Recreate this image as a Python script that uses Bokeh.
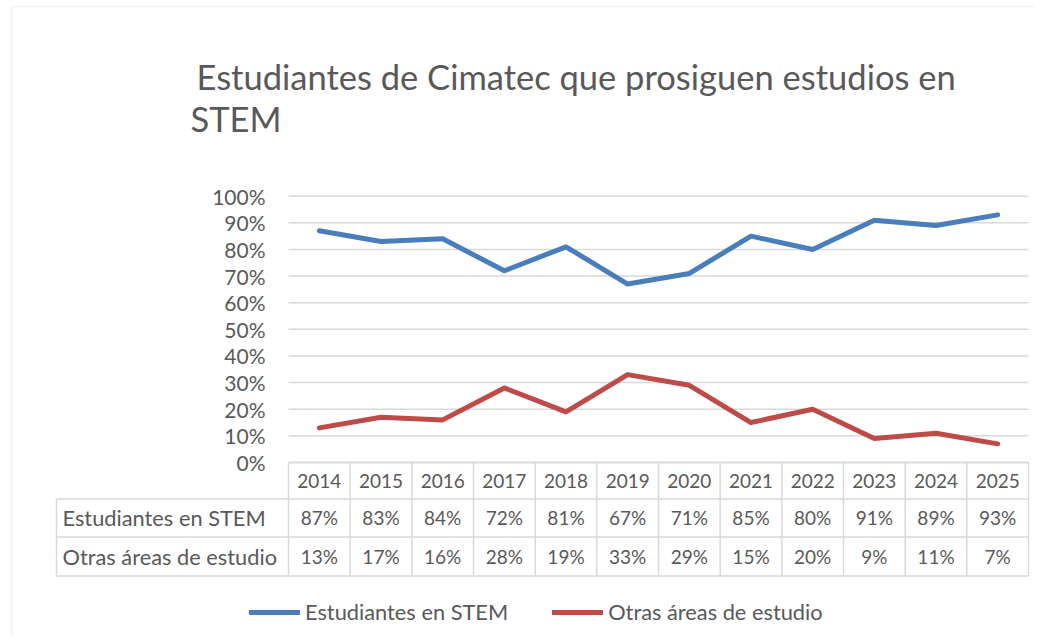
from bokeh.plotting import figure
from bokeh.models import (FixedTicker, Label, BoxAnnotation, Legend, LegendItem,
                          PrintfTickFormatter)
from bokeh.core.properties import value
from bokeh.embed import file_html
from bokeh.resources import INLINE

# ---------------- data ----------------
years = ["2014", "2015", "2016", "2017", "2018", "2019",
         "2020", "2021", "2022", "2023", "2024", "2025"]
stem = [87, 83, 84, 72, 81, 67, 71, 85, 80, 91, 89, 93]
otras = [13, 17, 16, 28, 19, 33, 29, 15, 20, 9, 11, 7]
series_names = ["Estudiantes en STEM", "Otras áreas de estudio"]
y_ticks = [0, 10, 20, 30, 40, 50, 60, 70, 80, 90, 100]
title_lines = ["Estudiantes de Cimatec que prosiguen estudios en", "STEM"]

# ---------------- style ----------------
FONT = "Lato"
GRAY = "#595959"
GRID = "#d9d9d9"
BLUE = "#4a7ebb"
RED = "#be4b48"

n = len(years)
idx = list(range(n))

W, H = 1034, 636
COL = 61.667          # px per category
PCT = 2.663           # px per percentage point
X0, Y0 = 288, 462     # pixel of plot-area left edge / 0% line


def dx(px):
    return -0.5 + (px - X0) / COL


def dy(py):
    return (Y0 - py) / PCT


p = figure(width=W, height=H,
           x_range=(dx(0), dx(W)), y_range=(dy(H), dy(0)),
           output_backend="svg", toolbar_location=None,
           x_axis_location=None,
           min_border=0, outline_line_color=None)

# y axis sits on the left edge of the plot area
p.yaxis.fixed_location = -0.5
p.yaxis.ticker = FixedTicker(ticks=y_ticks)
p.yaxis.formatter = PrintfTickFormatter(format="%d%%")
p.yaxis.axis_line_color = None
p.yaxis.major_tick_line_color = None
p.yaxis.minor_tick_line_color = None
p.yaxis.major_label_text_font = FONT
p.yaxis.major_label_text_font_size = "21px"
p.yaxis.major_label_text_color = GRAY
p.yaxis.major_label_standoff = 17

p.xgrid.visible = False
p.ygrid.visible = False

# horizontal gridlines across the plot area only
p.segment(x0=[-0.5] * len(y_ticks), y0=y_ticks,
          x1=[n - 0.5] * len(y_ticks), y1=y_ticks,
          line_color=GRID, line_width=1.5)

# lines
r1 = p.line(idx, stem, line_color=BLUE, line_width=5, line_join="round", line_cap="round")
r2 = p.line(idx, otras, line_color=RED, line_width=5, line_join="round", line_cap="round")

# ---------------- data table ----------------
row_centers = [-6.76, -20.84, -35.3]
row_edges = [0, -13.7, -28.0, -42.6]
col_edges = [i - 0.5 for i in range(n + 1)]
label_left = dx(56)

p.segment(x0=col_edges, y0=[row_edges[0]] * len(col_edges),
          x1=col_edges, y1=[row_edges[-1]] * len(col_edges),
          line_color=GRID, line_width=1.5)
p.segment(x0=[-0.5] + [label_left] * 3, y0=row_edges,
          x1=[n - 0.5] * len(row_edges), y1=row_edges,
          line_color=GRID, line_width=1.5)
p.segment(x0=[label_left], y0=[row_edges[1]], x1=[label_left], y1=[row_edges[3]],
          line_color=GRID, line_width=1.5)

txt_kw = dict(text_align="center", text_baseline="middle",
              text_font=value(FONT), text_font_size="19px", text_color=GRAY)
p.text(x=idx, y=[row_centers[0]] * n, text=years, **txt_kw)
p.text(x=idx, y=[row_centers[1]] * n, text=[f"{v}%" for v in stem], **txt_kw)
p.text(x=idx, y=[row_centers[2]] * n, text=[f"{v}%" for v in otras], **txt_kw)

for name, yc in zip(series_names, row_centers[1:]):
    p.add_layout(Label(x=dx(62), y=yc, text=name, text_baseline="middle",
                       text_align="left", text_font=FONT, text_font_size="21.8px",
                       text_color=GRAY))

# chart border (left and top edges)
p.add_layout(BoxAnnotation(left=dx(11), right=dx(W + 50), top=dy(6), bottom=dy(H + 50),
                           fill_color=None, fill_alpha=0,
                           line_color=GRID, line_width=1.5))

# title
p.add_layout(Label(x=dx(196), y=dy(76), text=title_lines[0], text_baseline="alphabetic",
                   text_font=FONT, text_font_size="34.5px", text_color=GRAY))
p.add_layout(Label(x=dx(190), y=dy(118), text=title_lines[1], text_baseline="alphabetic",
                   text_font=FONT, text_font_size="34.5px", text_color=GRAY))

# legend
legend = Legend(items=[LegendItem(label=series_names[0], renderers=[r1]),
                       LegendItem(label=series_names[1], renderers=[r2])],
                orientation="horizontal", location=(249, H - 625),
                border_line_color=None, background_fill_alpha=0,
                padding=0, margin=0, spacing=44, glyph_width=51,
                label_standoff=5, label_text_font=FONT,
                label_text_font_size="21.8px", label_text_color=GRAY)
p.add_layout(legend)

open("out.html", "w").write(file_html(p, INLINE))
